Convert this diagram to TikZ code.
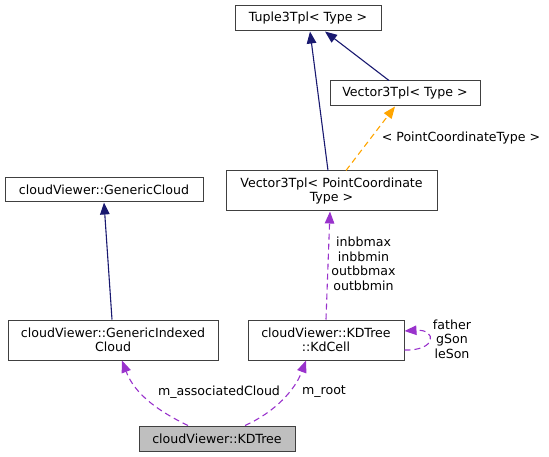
\documentclass[tikz,border=0pt]{standalone}
\usepackage{fontspec}
\setmainfont{DejaVu Sans}
\usetikzlibrary{arrows.meta}
\definecolor{inhblue}{RGB}{25,25,112}
\definecolor{tplorange}{RGB}{255,165,0}
\definecolor{usepurple}{RGB}{153,50,204}
\definecolor{boxgray}{RGB}{191,191,191}
\tikzset{
  txt/.style={font=\fontsize{12.6}{14.6}\selectfont, align=center, inner sep=0pt},
  box/.style={txt, draw=black!75, line width=1pt},
  inh/.style={draw=inhblue, line width=1.1pt, -{Triangle[length=12pt,width=9.5pt]}},
  tmpl/.style={draw=tplorange, line width=1.1pt, dash pattern=on 6pt off 4pt, -{Triangle[length=12pt,width=9.5pt]}},
  uses/.style={draw=usepurple, line width=1.1pt, dash pattern=on 6pt off 4pt, -{Triangle[length=12pt,width=9.5pt]}}
}
\begin{document}
\begin{tikzpicture}[x=1pt,y=-1pt]
        \useasboundingbox (0,0) rectangle (549,457);
        % Class boxes
        \node[box, minimum width=146pt, minimum height=25pt] (tuple) at (308,18.5) {Tuple3Tpl< Type >};
        \node[box, minimum width=150pt, minimum height=25pt] (vtype) at (405,93.5) {Vector3Tpl< Type >};
        \node[box, minimum width=211pt, minimum height=40pt] (vpct) at (331.5,191) {Vector3Tpl< PointCoordinate\\Type >};
        \node[box, minimum width=198pt, minimum height=24pt] (gcloud) at (104,190) {cloudViewer::GenericCloud};
        \node[box, minimum width=210pt, minimum height=40pt] (gic) at (113,340) {cloudViewer::GenericIndexed\\Cloud};
        \node[box, minimum width=156pt, minimum height=40pt] (kdcell) at (326,340) {cloudViewer::KDTree\\::KdCell};
        \node[box, fill=boxgray, minimum width=156pt, minimum height=25pt] (kdtree) at (217,438.5) {cloudViewer::KDTree};
        % Inheritance
        \draw[inh] ([xshift=-3.5pt]vpct.north) -- ([xshift=2pt]tuple.south);
        \draw[inh] ([xshift=-16pt]vtype.north) -- ([xshift=17pt]tuple.south);
        \draw[inh] ([xshift=-1pt]gic.north) -- (gcloud.south);
        % Template instance
        \draw[tmpl] ([xshift=14.5pt]vpct.north) -- ([xshift=-10pt]vtype.south);
        \node[txt] (tpllabel) at (461,138) {< PointCoordinateType >};
        % Members
        \draw[uses] (kdcell.north) -- ([xshift=-1.5pt]vpct.south);
        \node[txt] (bblabel) at (363.5,264) {inbbmax\\inbbmin\\outbbmax\\outbbmin};
        \draw[uses] ([yshift=-10pt]kdcell.east) .. controls (437,351) and (437,329) .. ([yshift=9pt]kdcell.east);
        \node[txt] (sonlabel) at (452,339) {father\\gSon\\leSon};
        \draw[uses] ([xshift=-29pt]kdtree.north) .. controls (160,412) and (135,395) .. ([xshift=9pt]gic.south);
        \node[txt] (cloudlabel) at (219,392) {m\_associatedCloud};
        \draw[uses] ([xshift=28pt]kdtree.north) .. controls (275,412) and (295,390) .. ([xshift=-20pt]kdcell.south);
        \node[txt] (rootlabel) at (324,392) {m\_root};
\end{tikzpicture}
\end{document}
